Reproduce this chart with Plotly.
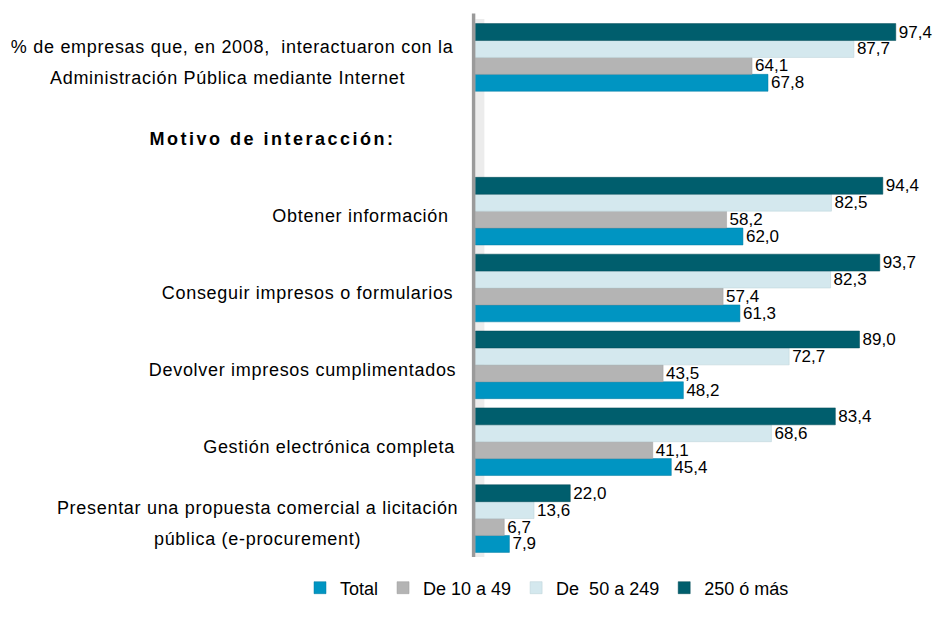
import plotly.graph_objects as go

# categorias (de arriba a abajo); la segunda es el titulo intermedio sin barras
categorias = ["Empresas", "Motivo", "Obtener", "Conseguir", "Devolver", "Gestion", "Presentar"]
etiquetas = [
    "% de empresas que, en 2008,  interactuaron con la<br>Administración Pública mediante Internet",
    "<b>Motivo de interacción:</b>",
    "Obtener información",
    "Conseguir impresos o formularios",
    "Devolver impresos cumplimentados",
    "Gestión electrónica completa",
    "Presentar una propuesta comercial a licitación<br>pública (e-procurement)",
]

total = [67.8, None, 62.0, 61.3, 48.2, 45.4, 7.9]
de_10_49 = [64.1, None, 58.2, 57.4, 43.5, 41.1, 6.7]
de_50_249 = [87.7, None, 82.5, 82.3, 72.7, 68.6, 13.6]
de_250 = [97.4, None, 94.4, 93.7, 89.0, 83.4, 22.0]

series = [
    ("Total", total, "#0095c2", "#007ba0"),
    ("De 10 a 49", de_10_49, "#b4b4b4", "#9c9c9c"),
    ("De  50 a 249", de_50_249, "#d4e8ee", "#b9d0d7"),
    ("250 ó más", de_250, "#005e6d", "#004a56"),
]

def fmt(v):
    return "" if v is None else f"{v:.1f}".replace(".", ",")

fuente = "Liberation Sans, Arial"

fig = go.Figure()
for nombre, vals, color, borde in series:
    fig.add_trace(go.Bar(
        y=categorias, x=vals, name=nombre, orientation="h",
        marker=dict(color=color, line=dict(color=borde, width=0.5)),
        text=[fmt(v) for v in vals], textposition="outside", constraintext="none",
        textfont=dict(family=fuente, size=17, color="black"),
        cliponaxis=False,
    ))

# pared gris del eje (efecto 3D)
fig.add_shape(type="rect", xref="x", yref="paper", x0=0, x1=2.1, y0=0, y1=1,
              fillcolor="#ececec", line_width=0, layer="below")
fig.add_shape(type="rect", xref="x", yref="paper", x0=-0.8, x1=0, y0=0, y1=1.01,
              fillcolor="#9a9a9a", line_width=0, layer="above")

# etiquetas de categorias: una anotacion por linea (centro horizontal en px)
centros = [(232, 227), (272,), (360,), (307,), (302,), (329,), (257, 257)]
for cat, txt, cx in zip(categorias, etiquetas, centros):
    lineas = txt.split("<br>")
    n = len(lineas)
    for i, (linea, c) in enumerate(zip(lineas, cx)):
        dy = -5 - (i - (n - 1) / 2) * 31
        fig.add_annotation(x=0, xref="paper", y=cat, yref="y", text=linea, showarrow=False,
                           xanchor="center", xshift=c - 471, yshift=dy, align="center",
                           font=dict(family=fuente, size=18, color="black"))

fig.update_layout(
    width=944, height=625,
    margin=dict(l=471, r=37, t=19, b=68, autoexpand=False),
    paper_bgcolor="white", plot_bgcolor="white",
    barmode="group", bargap=0.12, bargroupgap=0,
    font=dict(family=fuente, size=18, color="black"),
    showlegend=True,
    legend=dict(orientation="h", x=(300 - 471) / 436, xanchor="left",
                y=-(588 - 557) / 538, yanchor="middle",
                font=dict(size=18), itemwidth=30, tracegroupgap=0),
    xaxis=dict(range=[-1, 100], visible=False, fixedrange=True),
    yaxis=dict(categoryorder="array", categoryarray=categorias[::-1],
               showticklabels=False, showgrid=False, zeroline=False, showline=False,
               ticks="", fixedrange=True),
)

# quitar margen del body y espaciar un poco las letras de las etiquetas
post = """
document.body.style.margin = '0';
var gd = document.getElementById('{plot_id}');
function espaciar() {
  gd.querySelectorAll('.annotation-text').forEach(function (t) {
    t.style.letterSpacing = t.textContent.indexOf('Motivo') >= 0 ? '2.5px' : '0.7px';
  });
}
espaciar();
gd.on('plotly_afterplot', espaciar);
"""

fig.write_html("out.html", post_script=post, config={"displayModeBar": False})
